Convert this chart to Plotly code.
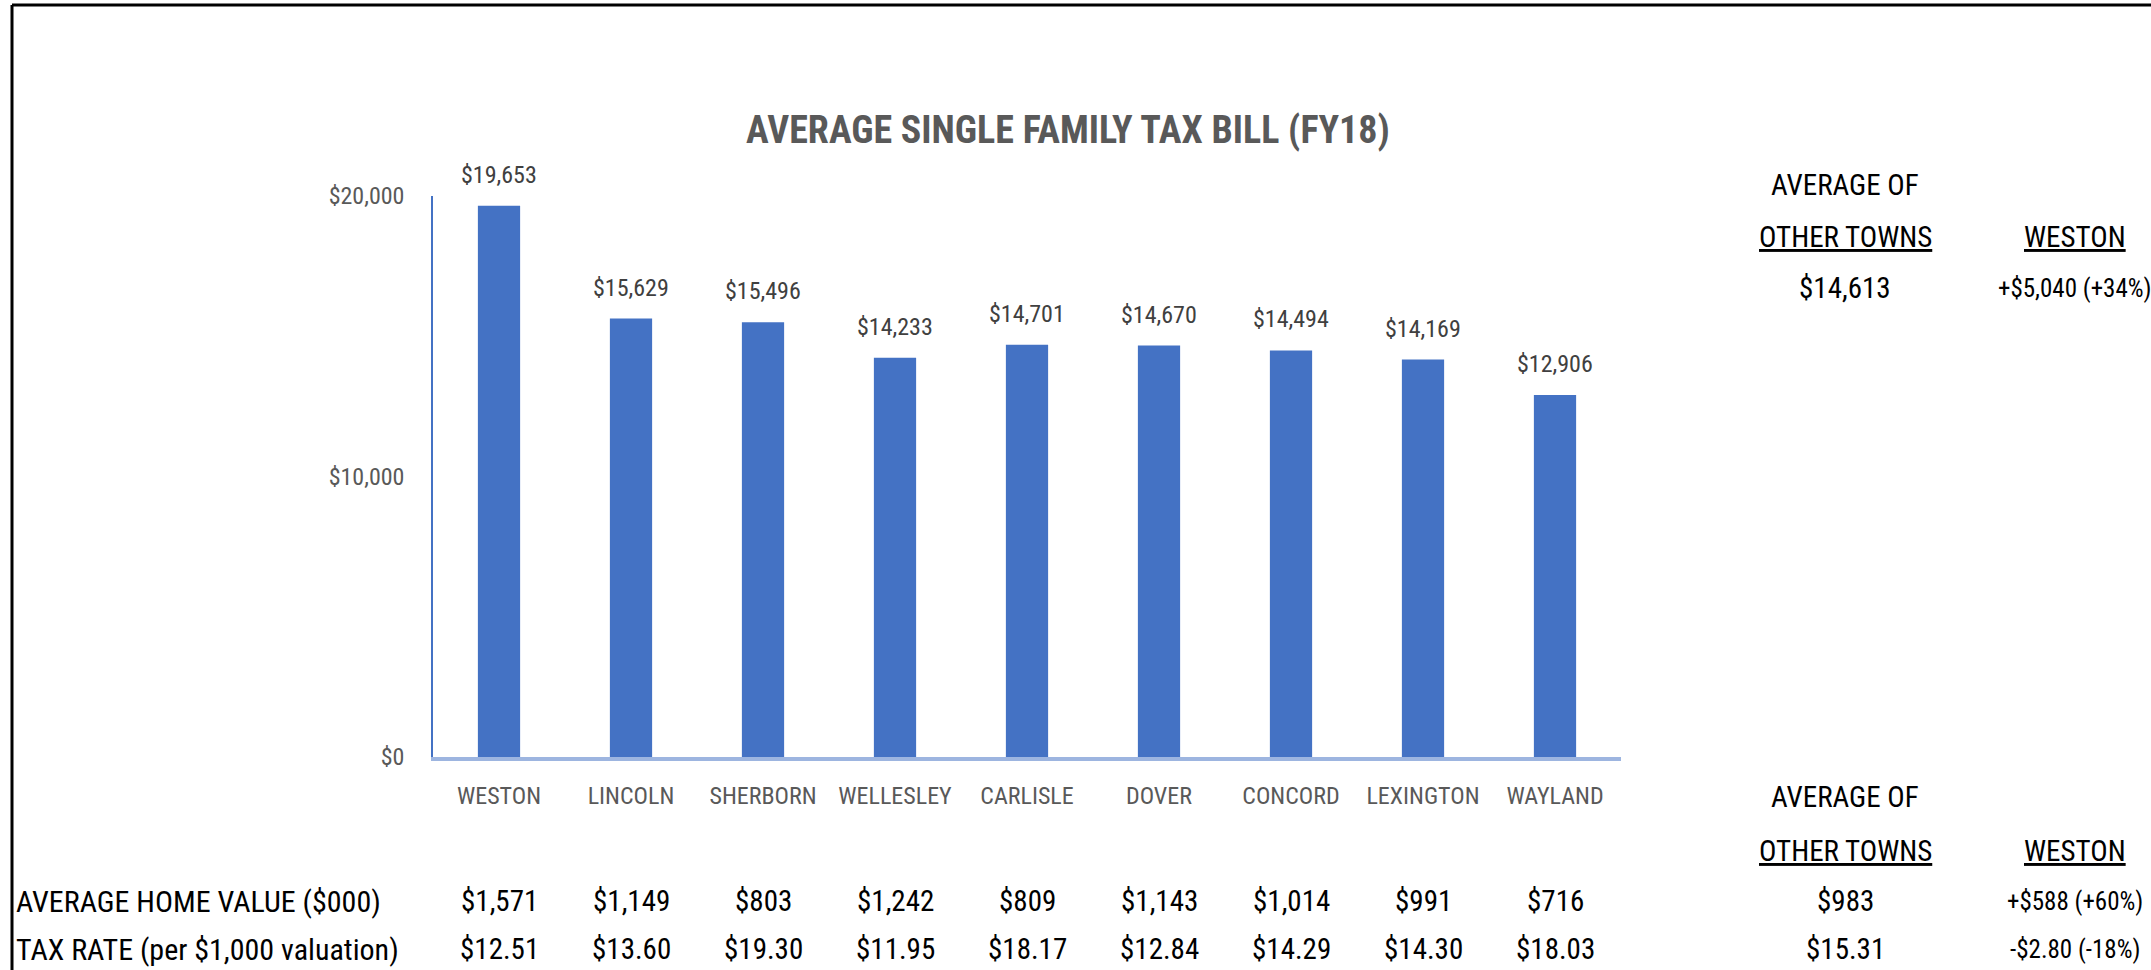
import plotly.graph_objects as go

# ---------------- data ----------------
towns = ["WESTON", "LINCOLN", "SHERBORN", "WELLESLEY", "CARLISLE",
         "DOVER", "CONCORD", "LEXINGTON", "WAYLAND"]
tax_bill = [19653, 15629, 15496, 14233, 14701, 14670, 14494, 14169, 12906]
home_value = ["$1,571", "$1,149", "$803", "$1,242", "$809",
              "$1,143", "$1,014", "$991", "$716"]
tax_rate = ["$12.51", "$13.60", "$19.30", "$11.95", "$18.17",
            "$12.84", "$14.29", "$14.30", "$18.03"]
y_ticks = [0, 10000, 20000]
y_tick_text = ["$0", "$10,000", "$20,000"]
row_labels = ["AVERAGE HOME VALUE ($000)", "TAX RATE (per $1,000 valuation)"]
avg_header = "AVERAGE OF"
avg_header2 = "OTHER TOWNS"
weston_header = "WESTON"
bill_avg = "$14,613"
bill_diff = "+$5,040 (+34%)"
home_avg = "$983"
home_diff = "+$588 (+60%)"
rate_avg = "$15.31"
rate_diff = "-$2.80 (-18%)"
title = "AVERAGE SINGLE FAMILY TAX BILL (FY18)"

# ---------------- layout geometry ----------------
W, H = 2151, 970
L, R, T, B = 433, 530, 196, 213
PW, PH = W - L - R, H - T - B

def px(x):
    return (x - L) / PW

def py(y):
    return (H - B - y) / PH

FONT = "Liberation Sans Narrow, Arial Narrow, Roboto Condensed, sans-serif"
BLUE = "#4472C4"

fig = go.Figure()
fig.add_trace(go.Bar(
    x=towns, y=tax_bill, marker=dict(color=BLUE, line=dict(width=0)),
    width=0.32, hoverinfo="skip"))
# invisible helper trace defining the categorical axis used by the table columns
fig.add_trace(go.Scatter(
    x=towns, y=[0] * len(towns), xaxis="x2", yaxis="y", mode="markers",
    marker=dict(opacity=0), hoverinfo="skip"))

ann = []
# data labels
for t, v in zip(towns, tax_bill):
    ann.append(dict(x=t, y=v, xref="x", yref="y", text=f"${v:,}",
                    showarrow=False, yanchor="bottom", yshift=15,
                    font=dict(family=FONT, size=24, color="#404040")))

# title
ann.append(dict(x=px(1068), y=py(130), xref="paper", yref="paper", text=f"<b>{title}</b>",
                showarrow=False, xanchor="center", yanchor="middle",
                font=dict(family=FONT, size=38, color="#595959")))

TBL = dict(family=FONT, size=29, color="#000000")
TBLL = dict(family=FONT, size=30, color="#000000")
TBLW = dict(family=FONT, size=25, color="#000000")

# table rows under the chart
for yrow, lab, vals in [(901, row_labels[0], home_value), (949, row_labels[1], tax_rate)]:
    ann.append(dict(x=px(14), y=py(yrow), xref="paper", yref="paper", text=lab,
                    showarrow=False, xanchor="left", yanchor="middle", font=TBLL))
    for t, v in zip(towns, vals):
        ann.append(dict(x=t, y=py(yrow), xref="x2", yref="paper", text=v,
                        showarrow=False, xanchor="center", yanchor="middle", font=TBL))

# right-side summary panels
XA, XW = px(1845), px(2075)
for y1, y2, y3, v1, v2 in [(185, 237, 288, bill_avg, bill_diff),
                           (797, 851, 901, home_avg, home_diff)]:
    ann.append(dict(x=XA, y=py(y1), xref="paper", yref="paper", text=avg_header,
                    showarrow=False, xanchor="center", yanchor="middle", font=TBL))
    ann.append(dict(x=XA, y=py(y2), xref="paper", yref="paper", text=f"<u>{avg_header2}</u>",
                    showarrow=False, xanchor="center", yanchor="middle", font=TBL))
    ann.append(dict(x=XW, y=py(y2), xref="paper", yref="paper", text=f"<u>{weston_header}</u>",
                    showarrow=False, xanchor="center", yanchor="middle", font=TBL))
    ann.append(dict(x=XA, y=py(y3), xref="paper", yref="paper", text=v1,
                    showarrow=False, xanchor="center", yanchor="middle", font=TBL))
    ann.append(dict(x=XW, y=py(y3), xref="paper", yref="paper", text=v2,
                    showarrow=False, xanchor="center", yanchor="middle", font=TBLW))
ann.append(dict(x=XA, y=py(949), xref="paper", yref="paper", text=rate_avg,
                showarrow=False, xanchor="center", yanchor="middle", font=TBL))
ann.append(dict(x=XW, y=py(949), xref="paper", yref="paper", text=rate_diff,
                showarrow=False, xanchor="center", yanchor="middle", font=TBLW))

shapes = [
    dict(type="line", xref="paper", yref="paper", x0=px(12), x1=px(W + 5),
         y0=py(5), y1=py(5), line=dict(color="#000000", width=3)),
    dict(type="line", xref="paper", yref="paper", x0=px(12), x1=px(12),
         y0=py(5), y1=py(H + 5), line=dict(color="#000000", width=3)),
]

fig.update_layout(
    width=W, height=H,
    margin=dict(l=L, r=R, t=T, b=B, autoexpand=False),
    paper_bgcolor="white", plot_bgcolor="white",
    showlegend=False,
    annotations=ann, shapes=shapes,
    xaxis=dict(showline=True, linecolor="#9DB5E0", linewidth=4,
               showgrid=False, zeroline=False, ticks="",
               ticklabelstandoff=14, range=[-0.5, 8.5],
               tickfont=dict(family=FONT, size=24, color="#595959")),
    xaxis2=dict(overlaying="x", type="category", categoryarray=towns,
                range=[-0.5, 8.5], domain=[px(446), px(1601)],
                visible=False, showgrid=False, zeroline=False),
    yaxis=dict(range=[0, 20000], tickmode="array", tickvals=y_ticks, ticktext=y_tick_text,
               showgrid=False, zeroline=False,
               showline=True, linecolor=BLUE, linewidth=1.5, ticks="",
               ticklabelstandoff=22,
               tickfont=dict(family=FONT, size=24, color="#595959")),
)

fig.write_html("out.html", config={"displayModeBar": False},
               post_script="document.body.style.margin='0';document.body.style.overflow='hidden';")
